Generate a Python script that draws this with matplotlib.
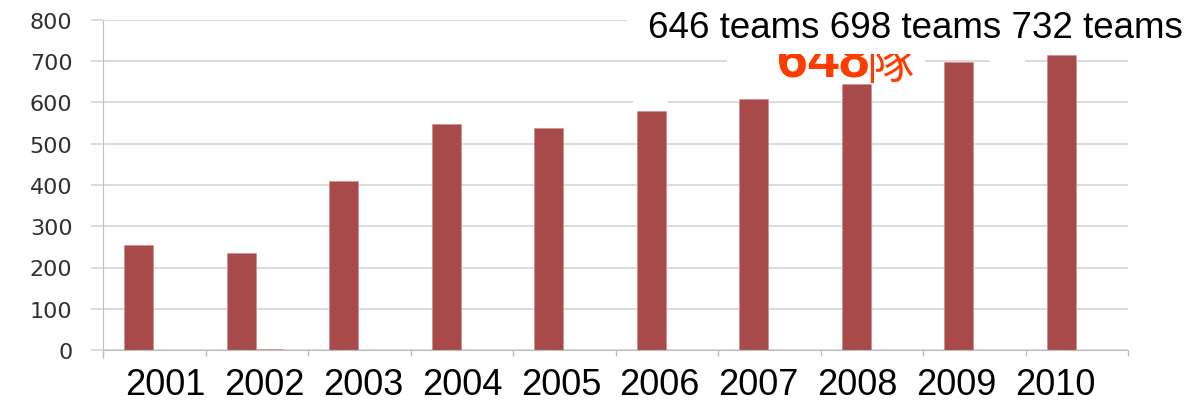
import matplotlib
matplotlib.use('Agg')
from matplotlib import pyplot as plt
from matplotlib.patches import Rectangle
from matplotlib.transforms import Bbox
import numpy as np

# data
years = ['2001', '2002', '2003', '2004', '2005', '2006', '2007', '2008', '2009', '2010']
teams = [255, 235, 410, 549, 537, 579, 608, 645, 697, 716]
second = [0, 3, 0, 0, 0, 0, 0, 0, 0, 0]
yticks = [0, 100, 200, 300, 400, 500, 600, 700, 800]
top_note = '646 teams 698 teams 732 teams'
red_num = '648'
red_char = '隊'

W, H = 1204, 402
bar_color = '#a84a4a'
grid_color = '#d9d9d9'


def px_rect(x0, y0, x1, y1, z):
    # white cover box given in pixel coords from the top-left corner
    r = Rectangle((x0 / W, 1 - y1 / H), (x1 - x0) / W, (y1 - y0) / H,
                  transform=fig.transFigure, facecolor='white',
                  edgecolor='none', zorder=z)
    fig.add_artist(r)


fig = plt.figure(figsize=(W / 100, H / 100), dpi=100)
ax = fig.add_axes([103 / W, 51 / H, 1025 / W, 330 / H])

x = np.arange(len(years))
ax.bar(x + 0.205, teams, width=0.285, align='edge', color=bar_color,
       edgecolor='#c98a8a', linewidth=0.4, zorder=2)
ax.bar(x + 0.49, second, width=0.28, align='edge', color='#d89a9a', zorder=2)

ax.set_xlim(0, len(years))
ax.set_ylim(0, 800)

ax.set_yticks(yticks)
ax.yaxis.grid(True, color=grid_color, linewidth=1.3, zorder=0)
ax.set_axisbelow(True)
ax.tick_params(axis='y', length=9, width=1.3, color=grid_color, pad=13,
               labelsize=16, labelcolor='#303030')
for lab in ax.get_yticklabels():
    lab.set_family('DejaVu Sans')

# year labels sat in a text box slightly narrower than the plot
ax.set_xticks(0.13 + 0.964 * (x + 0.5))
ax.set_xticklabels(years, fontsize=26, family='Liberation Sans')
ax.set_xticks(np.arange(len(years) + 1), minor=True)
ax.tick_params(axis='x', which='major', length=0, pad=12)
ax.tick_params(axis='x', which='minor', length=4, width=1, color='#bfbfbf')

for s in ['top', 'right']:
    ax.spines[s].set_visible(False)
ax.spines['left'].set_color('#bfbfbf')
ax.spines['bottom'].set_color('#bfbfbf')
ax.spines['left'].set_bounds(-20, 800)

# overlapping boxes from the original slide
px_rect(727, 46, 925, 68, 1)
clip = Bbox.from_extents(0, 0, W, H - 55)
t1 = fig.text(777 / W, 1 - 77 / H, red_num, color='#ff3c00', fontsize=40,
              fontweight='bold', family='Liberation Sans', zorder=2)
t2 = fig.text(866 / W, 1 - 79 / H, red_char, color='#ff3c00', fontsize=34,
              family=['Noto Sans CJK SC', 'DejaVu Sans'], zorder=2)
for t in (t1, t2):
    t.set_clip_box(clip)
    t.set_clip_on(True)
px_rect(627, 0, W, 55, 3)
px_rect(990, 58, 1025, 66, 3)
px_rect(633, 99, 668, 107, 3)
fig.text(648 / W, 1 - 38 / H, top_note, fontsize=26.5,
         family='Liberation Sans', zorder=4)

fig.savefig('out.png', dpi=100)
